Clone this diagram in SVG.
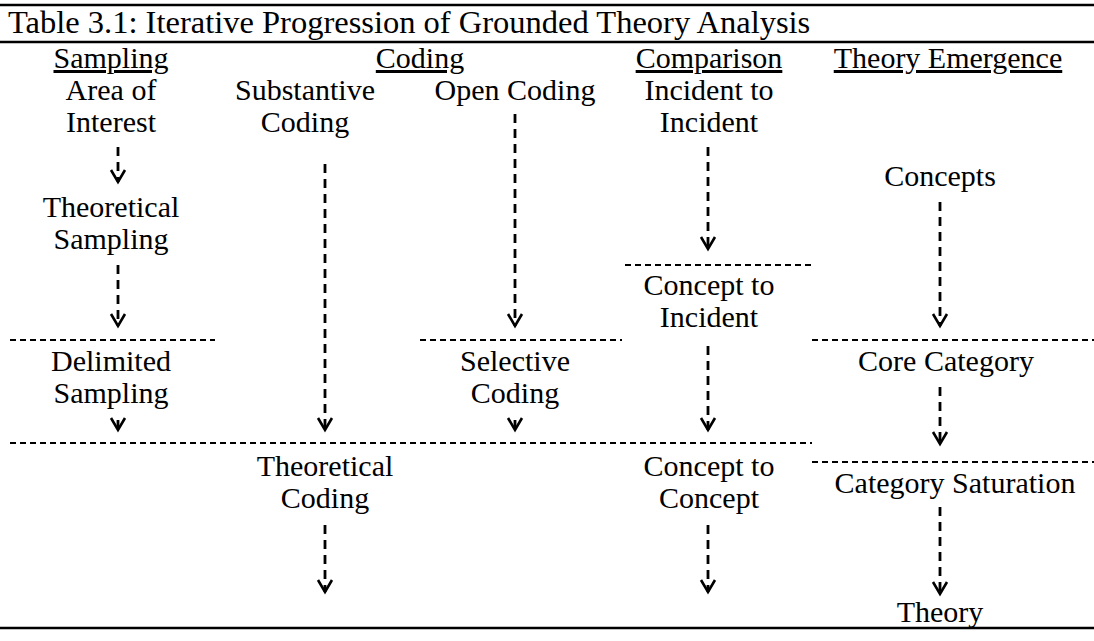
<svg xmlns="http://www.w3.org/2000/svg" width="1094" height="641" viewBox="0 0 1094 641">
<defs>
<style>
text{font-family:"Liberation Serif","Times New Roman",serif;font-size:30px;fill:#000;text-anchor:middle}
.title{text-anchor:start;font-size:32.5px}
.hd{text-decoration:underline}
.rule{stroke:#000;stroke-width:2.5}
.sep{stroke:#000;stroke-width:2;stroke-dasharray:6 4;fill:none}
.arr{stroke:#000;stroke-width:2.8;stroke-dasharray:9 6;fill:none;marker-end:url(#ah)}
</style>
<marker id="ah" markerUnits="userSpaceOnUse" markerWidth="16" markerHeight="18" refX="0" refY="0" viewBox="-13 -9 15 18" orient="auto" overflow="visible">
<path d="M-12,-7 L0,0 L-12,7" fill="none" stroke="#000" stroke-width="2.6"/>
</marker>
</defs>
<rect width="1094" height="641" fill="#fff"/>
<g id="frame">
<line class="rule" x1="0" y1="5" x2="1094" y2="5"/>
<line class="rule" x1="0" y1="42" x2="1094" y2="42"/>
<line class="rule" x1="0" y1="628" x2="1094" y2="628"/>
<text class="title" x="8" y="33">Table 3.1: Iterative Progression of Grounded Theory Analysis</text>
</g>
<g id="headers">
<text class="hd" x="111" y="68">Sampling</text>
<text class="hd" x="420" y="68">Coding</text>
<text class="hd" x="709" y="68">Comparison</text>
<text class="hd" x="948" y="68">Theory Emergence</text>
</g>
<g id="area-of-interest"><text x="111" y="100">Area of</text><text x="111" y="132">Interest</text></g>
<g id="theoretical-sampling"><text x="111" y="217">Theoretical</text><text x="111" y="249">Sampling</text></g>
<g id="delimited-sampling"><text x="111" y="371">Delimited</text><text x="111" y="403">Sampling</text></g>
<g id="substantive-coding"><text x="305" y="100">Substantive</text><text x="305" y="132">Coding</text></g>
<g id="open-coding"><text x="515" y="100">Open Coding</text></g>
<g id="selective-coding"><text x="515" y="371">Selective</text><text x="515" y="403">Coding</text></g>
<g id="theoretical-coding"><text x="325" y="476">Theoretical</text><text x="325" y="508">Coding</text></g>
<g id="incident-to-incident"><text x="709" y="100">Incident to</text><text x="709" y="132">Incident</text></g>
<g id="concept-to-incident"><text x="709" y="295">Concept to</text><text x="709" y="327">Incident</text></g>
<g id="concept-to-concept"><text x="709" y="476">Concept to</text><text x="709" y="508">Concept</text></g>
<g id="concepts"><text x="940" y="186">Concepts</text></g>
<g id="core-category"><text x="946" y="371">Core Category</text></g>
<g id="category-saturation"><text x="955" y="493">Category Saturation</text></g>
<g id="theory"><text x="940" y="622">Theory</text></g>
<g id="separators">
<line class="sep" x1="10" y1="340" x2="215" y2="340"/>
<line class="sep" x1="420" y1="340" x2="622" y2="340"/>
<line class="sep" x1="625" y1="265" x2="812" y2="265"/>
<line class="sep" x1="812" y1="340" x2="1094" y2="340"/>
<line class="sep" x1="10" y1="443" x2="812" y2="443"/>
<line class="sep" x1="812" y1="462" x2="1094" y2="462"/>
</g>
<g id="connectors">
<line class="arr" x1="118" y1="147" x2="118" y2="182"/>
<line class="arr" x1="118" y1="265" x2="118" y2="326"/>
<line class="arr" x1="118" y1="420" x2="118" y2="430"/>
<line class="arr" x1="325" y1="164" x2="325" y2="430"/>
<line class="arr" x1="515" y1="114" x2="515" y2="326"/>
<line class="arr" x1="515" y1="420" x2="515" y2="430"/>
<line class="arr" x1="325" y1="525" x2="325" y2="592"/>
<line class="arr" x1="708" y1="147" x2="708" y2="249"/>
<line class="arr" x1="708" y1="346" x2="708" y2="430"/>
<line class="arr" x1="708" y1="525" x2="708" y2="592"/>
<line class="arr" x1="940" y1="202" x2="940" y2="326"/>
<line class="arr" x1="940" y1="387" x2="940" y2="444"/>
<line class="arr" x1="940" y1="507" x2="940" y2="594"/>
</g>
</svg>
